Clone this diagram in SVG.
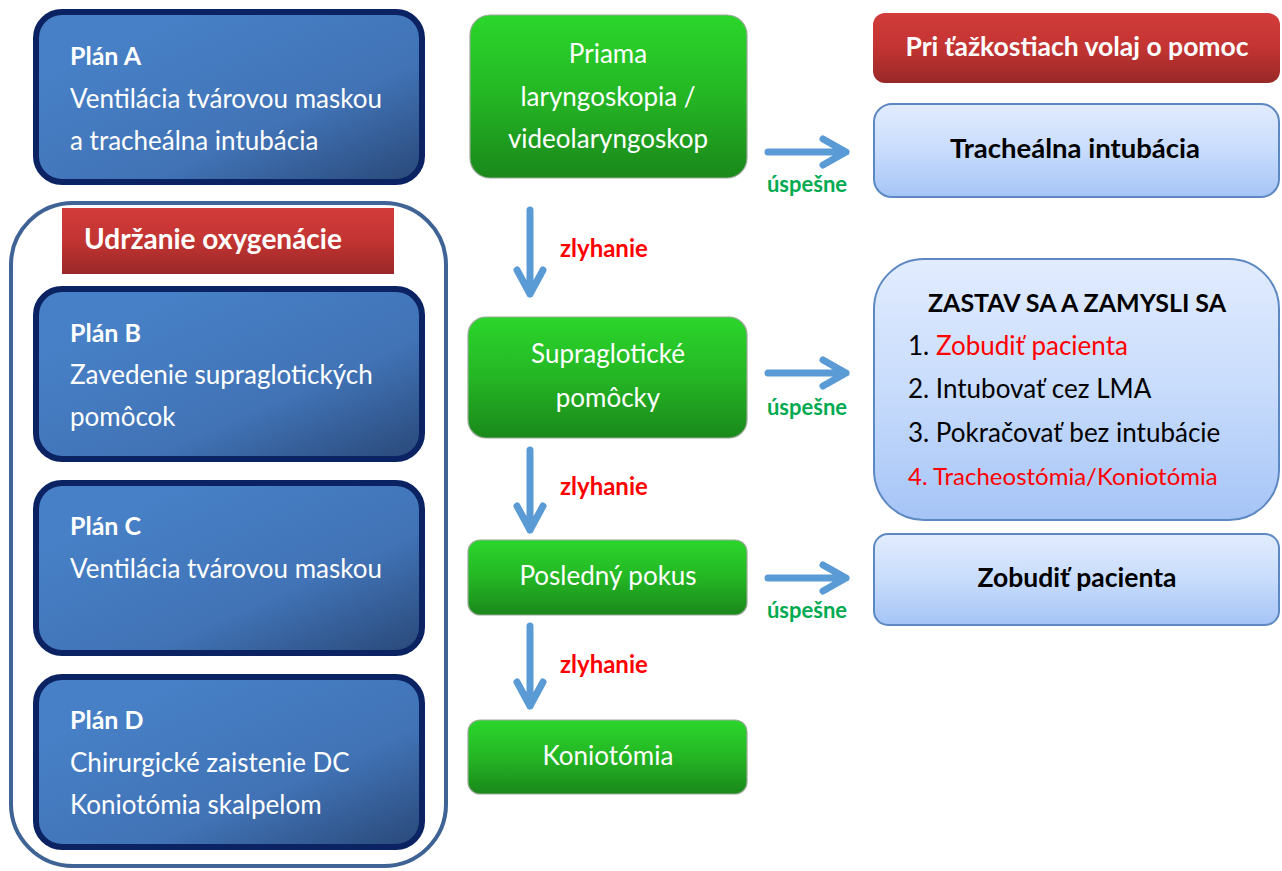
<svg xmlns="http://www.w3.org/2000/svg" width="1282" height="871" viewBox="0 0 1282 871">
<defs>
<linearGradient id="gBlue" x1="0.2" y1="0.2" x2="1" y2="1">
<stop offset="0" stop-color="#4780c6"/>
<stop offset="0.55" stop-color="#4173b6"/>
<stop offset="1" stop-color="#294878"/>
</linearGradient>
<linearGradient id="gGreen" x1="0" y1="0" x2="0" y2="1">
<stop offset="0" stop-color="#2bd62b"/>
<stop offset="0.5" stop-color="#24b624"/>
<stop offset="1" stop-color="#1a881a"/>
</linearGradient>
<linearGradient id="gRed" x1="0" y1="0" x2="0" y2="1">
<stop offset="0" stop-color="#d23c3a"/>
<stop offset="0.5" stop-color="#c23432"/>
<stop offset="1" stop-color="#992828"/>
</linearGradient>
<linearGradient id="gLight" x1="0" y1="0" x2="0" y2="1">
<stop offset="0" stop-color="#e2ecfe"/>
<stop offset="0.5" stop-color="#c8dcfc"/>
<stop offset="1" stop-color="#a5c4f6"/>
</linearGradient>
<style>
text{font-family:Lato,"Open Sans","Liberation Sans",sans-serif;}
.plan{fill:url(#gBlue);stroke:#0b2363;stroke-width:6;}
.green{fill:url(#gGreen);stroke:#9aa89a;stroke-width:1.2;}
.red{fill:url(#gRed);}
.light{fill:url(#gLight);stroke:#5d88c2;stroke-width:2;}
.wt{fill:#ffffff;font-size:26px;}
.wb{fill:#ffffff;font-size:25px;font-weight:bold;}
.gt{fill:#ffffff;font-size:26px;text-anchor:middle;}
.bk{fill:#000000;font-size:25px;font-weight:bold;text-anchor:middle;}
.li{fill:#000000;font-size:26px;}
.rd{fill:#ff0000;}
.fail{fill:#ff0000;font-size:24px;font-weight:bold;}
.ok{fill:#00aa50;font-size:22px;font-weight:bold;text-anchor:middle;}
.arr{fill:none;stroke:#5b9bd5;stroke-width:7;stroke-linecap:round;stroke-linejoin:round;}
</style>
</defs>
<rect width="1282" height="871" fill="#ffffff"/>

<g id="planA">
<rect class="plan" x="36" y="12" width="386" height="170" rx="26"/>
<text class="wb" x="70" y="65">Plán A</text>
<text class="wt" x="70" y="108">Ventilácia tvárovou maskou</text>
<text class="wt" x="70" y="150">a tracheálna intubácia</text>
</g>

<g id="oxygenacia">
<rect x="11" y="203" width="435" height="663" rx="62" fill="none" stroke="#3e6394" stroke-width="4"/>
<rect class="red" x="62" y="208" width="332" height="66"/>
<text class="wb" x="84" y="249" style="font-size:28px">Udržanie oxygenácie</text>
</g>

<g id="planB">
<rect class="plan" x="36" y="289" width="386" height="170" rx="26"/>
<text class="wb" x="70" y="342">Plán B</text>
<text class="wt" x="70" y="384">Zavedenie supraglotických</text>
<text class="wt" x="70" y="426">pomôcok</text>
</g>

<g id="planC">
<rect class="plan" x="36" y="483" width="386" height="170" rx="26"/>
<text class="wb" x="70" y="535">Plán C</text>
<text class="wt" x="70" y="578">Ventilácia tvárovou maskou</text>
</g>

<g id="planD">
<rect class="plan" x="36" y="677" width="386" height="170" rx="26"/>
<text class="wb" x="70" y="729">Plán D</text>
<text class="wt" x="70" y="772">Chirurgické zaistenie DC</text>
<text class="wt" x="70" y="814">Koniotómia skalpelom</text>
</g>

<g id="laryngoskopia">
<rect class="green" x="470" y="15" width="277" height="163" rx="20"/>
<text class="gt" x="608" y="63">Priama</text>
<text class="gt" x="608" y="106">laryngoskopia /</text>
<text class="gt" x="608" y="148">videolaryngoskop</text>
</g>

<g id="supraglotic">
<rect class="green" x="468" y="317" width="279" height="121" rx="18"/>
<text class="gt" x="608" y="363">Supraglotické</text>
<text class="gt" x="608" y="407">pomôcky</text>
</g>

<g id="posledny">
<rect class="green" x="468" y="540" width="279" height="75" rx="12"/>
<text class="gt" x="608" y="585">Posledný pokus</text>
</g>

<g id="koniotomia">
<rect class="green" x="468" y="720" width="279" height="74" rx="12"/>
<text class="gt" x="608" y="765">Koniotómia</text>
</g>

<g id="pomoc">
<rect class="red" x="873" y="13" width="407" height="70" rx="12"/>
<text class="wb" x="1077" y="56" text-anchor="middle" style="font-size:26.5px">Pri ťažkostiach volaj o pomoc</text>
</g>

<g id="intubacia">
<rect class="light" x="874" y="104" width="405" height="93" rx="18"/>
<text class="bk" x="1075" y="158" style="font-size:27.5px">Tracheálna intubácia</text>
</g>

<g id="zastav">
<rect class="light" x="874" y="259" width="405" height="261" rx="50"/>
<text class="bk" x="1077" y="312">ZASTAV SA A ZAMYSLI SA</text>
<text class="li" x="908" y="355">1. <tspan class="rd">Zobudiť pacienta</tspan></text>
<text class="li" x="908" y="398">2. Intubovať cez LMA</text>
<text class="li" x="908" y="442">3. Pokračovať bez intubácie</text>
<text class="li rd" x="908" y="485" style="font-size:24px">4. Tracheostómia/Koniotómia</text>
</g>

<g id="zobudit">
<rect class="light" x="874" y="534" width="405" height="91" rx="14"/>
<text class="bk" x="1077" y="587" style="font-size:26.5px">Zobudiť pacienta</text>
</g>

<g id="connectors">
<path class="arr" d="M530 210 V294 M517 270 L530 294 L543 270"/>
<path class="arr" d="M530 450 V530 M517 506 L530 530 L543 506"/>
<path class="arr" d="M530 626 V706 M517 682 L530 706 L543 682"/>
<path class="arr" d="M768 152 H846 M823 139 L846 152 L823 165"/>
<path class="arr" d="M768 373 H846 M823 360 L846 373 L823 386"/>
<path class="arr" d="M768 578 H846 M823 565 L846 578 L823 591"/>
<text class="fail" x="560" y="257">zlyhanie</text>
<text class="fail" x="560" y="495">zlyhanie</text>
<text class="fail" x="560" y="673">zlyhanie</text>
<text class="ok" x="807" y="192">úspešne</text>
<text class="ok" x="807" y="415">úspešne</text>
<text class="ok" x="807" y="618">úspešne</text>
</g>
</svg>
